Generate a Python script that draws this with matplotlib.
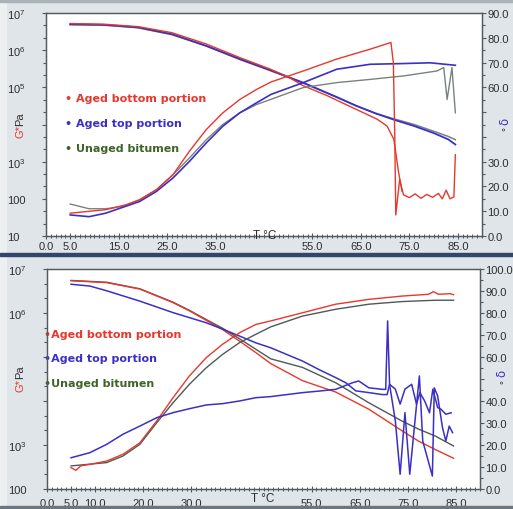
import matplotlib.pyplot as plt
from matplotlib.patches import Rectangle
from matplotlib.ticker import FixedLocator, MultipleLocator, NullFormatter

plt.rcParams['font.family'] = ['Liberation Sans Narrow', 'Liberation Sans', 'DejaVu Sans']

W, H = 513, 510
RED = '#e8372c'
BLUE = '#3b2fc4'
GREY = '#78827f'
DARK_GREY = '#4c5a58'
TEXT = '#2e2e2e'
GREEN_TXT = '#3f6328'

# ---------------- top panel data ----------------
top_g_temp = [5, 12, 19, 26, 33, 40, 46, 53, 60, 64, 68, 72, 76, 80, 83, 84.5]
top_g_top = [5.0e6, 4.8e6, 4.1e6, 2.7e6, 1.32e6, 5.8e5, 3.0e5, 1.35e5, 5.5e4,
             3.2e4, 2.0e4, 1.32e4, 9.1e3, 5.9e3, 4.0e3, 2.9e3]
top_g_unaged = [4.8e6, 4.7e6, 4.0e6, 2.6e6, 1.3e6, 5.6e5, 2.9e5, 1.32e5, 5.4e4,
                3.2e4, 2.0e4, 1.4e4, 1.0e4, 6.6e3, 4.8e3, 3.9e3]
top_g_bottom_temp = [5, 12, 19, 26, 33, 40, 46, 50, 53, 58, 63.5, 68.3, 70.4, 71.8, 72.8, 73.5]
top_g_bottom = [5.2e6, 5.0e6, 4.3e6, 2.95e6, 1.48e6, 6.3e5, 3.2e5, 1.9e5, 1.12e5,
                6.0e4, 2.75e4, 1.4e4, 9.1e3, 4.0e3, 500, 160]

top_d_bottom_temp = [5, 8, 12.3, 16.5, 19.3, 22.8, 26.2, 29.6, 33.1, 36.5, 40, 43.5, 46.5,
                     53.1, 60, 66.9, 71.2, 71.7, 72.0, 72.2, 73.0, 73.8, 75, 76.2, 77.4,
                     78.6, 79.8, 81, 81.8, 82.6, 83.4, 84.2, 84.5]
top_d_bottom = [9.2, 9.8, 10.6, 12.6, 14.6, 18.7, 24.7, 34.2, 43, 49.7, 55.1, 59.2, 62.2,
                66.6, 71.4, 75.4, 78.1, 70, 40, 8.5, 22.7, 16.6, 15.5, 17, 15.2,
                16.8, 15.6, 17.2, 15, 18.5, 15, 15.8, 32.8]
top_d_top_temp = [5, 8.9, 12.3, 19.3, 22.8, 26.2, 29.6, 33.1, 36.5, 40, 43.5, 46.5,
                  53.1, 60, 66.9, 73.8, 79.3, 84.5]
top_d_top = [8.5, 7.8, 9.2, 13.9, 18, 23.4, 30.1, 37.6, 44.3, 49.7, 53.8, 57.2,
             61.9, 67.3, 69.3, 69.6, 69.9, 68.9]
top_d_unaged_temp = [5, 8.9, 12.3, 15.8, 19.3, 22.8, 26.2, 29.6, 33.1, 36.5, 40, 43.5, 46.5,
                     53.1, 60, 66.9, 73.8, 80.7, 82.1, 82.8, 83.8, 84.5]
top_d_unaged = [12.9, 11, 11, 11.9, 14.6, 18.7, 24.7, 31.5, 38.9, 45, 49.7, 53.1, 55.2,
                59.9, 61.9, 63.2, 64.6, 66.6, 68, 55.1, 68, 49.7]

# ---------------- bottom panel data ----------------
bot_g_temp = [5, 12.4, 19.3, 26.1, 29.6, 33.1, 36.5, 40, 43.4, 46.5, 53.1, 60, 66.9,
              73.8, 77.2, 80.7, 84.5]
bot_g_bottom = [5.4e6, 4.9e6, 3.5e6, 1.74e6, 1.12e6, 6.8e5, 4.2e5, 2.3e5, 1.26e5, 7.1e4,
                2.9e4, 1.6e4, 6.5e3, 2.1e3, 1.23e3, 790, 500]
bot_g_unaged = [5.5e6, 5.0e6, 3.55e6, 1.78e6, 1.15e6, 7.1e5, 4.5e5, 2.6e5, 1.5e5, 9.1e4,
                5.8e4, 2.6e4, 9.1e3, 3.5e3, 2.3e3, 1.6e3, 950]
bot_g_top_temp = [5, 8.9, 12.4, 19.3, 26.2, 33.1, 36.5, 40, 43.4, 46.5, 53.1, 56.5, 60,
                  62.1, 64.2, 66.9, 69.7, 70.7, 71.2, 72.4, 73.4, 74.4, 75.8, 76.8, 77.5,
                  78.5, 79.5, 80.2, 81.2, 81.9, 82.9, 84]
bot_g_top = [4.5e6, 4.1e6, 3.2e6, 1.86e6, 1.02e6, 6.0e5, 4.3e5, 3.0e5, 2.1e5, 1.62e5,
             8.1e4, 5.2e4, 3.4e4, 2.6e4, 1.7e4, 1.55e4, 1.4e4, 1.4e4, 2.4e4, 1.86e4,
             8.5e3, 1.86e4, 2.4e4, 8.5e3, 1.55e4, 1.0e4, 5.4e3, 1.86e4, 7.1e3, 6.5e3,
             5.0e3, 5.4e3]

bot_d_bottom_temp = [5, 6, 7, 8.9, 12.4, 15.8, 19.3, 22.8, 26.2, 29.6, 33.1, 36.5, 40,
                     43.4, 46.5, 53.1, 60, 66.9, 73.8, 79.3, 80.3, 81.4, 83.8, 84.5]
bot_d_bottom = [9.7, 8.5, 10.5, 11.2, 12.7, 15.8, 21, 30.9, 41.5, 51.4, 59.7, 65.8, 71,
                74.8, 76.4, 80.1, 84, 86.2, 87.7, 88.5, 89.7, 88.5, 88.8, 88.3]
bot_d_unaged_temp = [5, 12.4, 15.8, 19.3, 22.8, 26.2, 29.6, 33.1, 36.5, 40, 43.4, 46.5,
                     53.1, 60, 66.9, 73.8, 80.7, 84.5]
bot_d_unaged = [10.5, 12, 15, 20.3, 30.1, 39.2, 47.6, 55.1, 61.2, 66.5, 70.3, 73.7,
                78.6, 81.7, 84, 85.2, 85.8, 85.8]
bot_d_top_temp = [5, 8.9, 12.4, 15.8, 19.3, 22.8, 26.2, 29.6, 33.1, 36.5, 40, 43.4, 46.5,
                  53.1, 56.5, 60, 63.5, 64.8, 66.9, 69.7, 70.4, 70.8, 71.2, 72.4, 73.4,
                  74.4, 75.4, 77.4, 78.1, 80.1, 80.5, 81.2, 82.2, 82.9, 83.6, 84.3]
bot_d_top = [14.2, 16.5, 20.3, 24.9, 28.6, 32.4, 34.7, 36.5, 38.2, 38.8, 40, 41.5, 42,
             43.8, 44.5, 45.3, 48.3, 49.1, 46, 45.3, 45.3, 76.4, 47.6, 31, 6.7,
             34.7, 6.7, 51.4, 21.8, 5.9, 46, 42.3, 27.9, 21.8, 28.6, 25.6]

# axis labels
legend_names = ['Aged bottom portion', 'Aged top portion', 'Unaged bitumen']
top_xtick_pos = [0, 5, 15, 25, 35, 55, 65, 75, 85]
top_xtick_lab = ['0.0', '5.0', '15.0', '25.0', '35.0', '55.0', '65.0', '75.0', '85.0']
bot_xtick_pos = [0, 5, 10, 20, 30, 55, 65, 75, 85]
bot_xtick_lab = ['0.0', '5.0', '10.0', '20.0', '30.0', '55.0', '65.0', '75.0', '85.0']
top_ytick_pos = [1e7, 1e6, 1e5, 1e4, 1e3, 100, 10]
top_ytick_lab = [r'$\mathregular{10^7}$', r'$\mathregular{10^6}$', r'$\mathregular{10^5}$',
                 '', r'$\mathregular{10^3}$', '100', '10']
bot_ytick_pos = [1e7, 1e6, 1e5, 1e4, 1e3, 100]
bot_ytick_lab = [r'$\mathregular{10^7}$', r'$\mathregular{10^6}$', '', '',
                 r'$\mathregular{10^3}$', '100']
top_rtick_pos = [0, 10, 20, 30, 40, 50, 60, 70, 80, 90]
top_rtick_lab = ['0.0', '10.0', '20.0', '30.0', '', '', '60.0', '70.0', '80.0', '90.0']
bot_rtick_pos = [0, 10, 20, 30, 40, 50, 60, 70, 80, 90, 100]
bot_rtick_lab = ['0.0', '10.0', '20.0', '30.0', '40.0', '', '60.0', '70.0', '80.0',
                 '90.0', '100.0']


def px_axes(fig, left, top, right, bottom):
    return fig.add_axes([left / W, 1 - bottom / H, (right - left) / W, (bottom - top) / H])


def style_panel(ax, axr, gmin, gmax, dmax, ypos, ylab, rpos, rlab, xpos, xlab, xpad):
    ax.set_yscale('log')
    ax.set_xlim(0, 90)
    ax.set_ylim(gmin, gmax)
    axr.set_ylim(0, dmax)
    ax.set_facecolor('white')
    for a in (ax, axr):
        for s in a.spines.values():
            s.set_color('#505a60')
            s.set_linewidth(0.9)
    ax.set_yticks(ypos, ylab)
    dec = [p for p in ypos]
    minor = []
    for p in dec[1:]:
        minor += [p * 10 ** (1 / 3), p * 10 ** (2 / 3)]
    ax.yaxis.set_minor_locator(FixedLocator(minor))
    ax.yaxis.set_minor_formatter(NullFormatter())
    ax.tick_params(axis='y', which='major', direction='out', length=3, width=0.8,
                   color='#505a60', labelsize=8, labelcolor=TEXT, pad=25)
    ax.tick_params(axis='y', which='minor', direction='out', length=2, width=0.8, color='#505a60')
    for t in ax.get_yticklabels():
        t.set_horizontalalignment('left')
    ax.set_xticks(xpos, xlab)
    ax.xaxis.set_minor_locator(MultipleLocator(1))
    ax.tick_params(axis='x', which='major', direction='inout', length=4, width=0.8,
                   color='#505a60', labelsize=8, labelcolor=TEXT, pad=xpad)
    ax.tick_params(axis='x', which='minor', direction='inout', length=2.5, width=0.7, color='#505a60')
    axr.set_yticks(rpos, rlab)
    axr.yaxis.set_minor_locator(MultipleLocator(5))
    axr.tick_params(axis='y', which='major', direction='out', length=3, width=0.8,
                    color='#505a60', labelsize=8, labelcolor=TEXT, pad=1)
    axr.tick_params(axis='y', which='minor', direction='out', length=2, width=0.8, color='#505a60')
    ax.set_zorder(axr.get_zorder() - 1)
    axr.patch.set_visible(False)


fig = plt.figure(figsize=(W / 100, H / 100), dpi=100)
fig.patch.set_facecolor('#dfe5e8')
fig.patches.append(Rectangle((0, 0), 6 / W, 1, transform=fig.transFigure, color='#edf0f1', zorder=0))
fig.patches.append(Rectangle((0, 1 - 3 / H), 1, 3 / H, transform=fig.transFigure, color='#a9b3b8', zorder=0))
fig.patches.append(Rectangle((0, 1 - 257 / H), 1, 3 / H, transform=fig.transFigure, color='#33456a', zorder=0))
fig.patches.append(Rectangle((0, 0), 1, 3 / H, transform=fig.transFigure, color='#6b7780', zorder=0))

# ---------------- top panel ----------------
ax1 = px_axes(fig, 46, 14, 482, 237)
ax1r = ax1.twinx()
ax1.plot(top_g_temp, top_g_unaged, color=GREY, lw=1.1)
ax1.plot(top_g_temp, top_g_top, color=BLUE, lw=1.3)
ax1.plot(top_g_bottom_temp, top_g_bottom, color=RED, lw=1.0)
ax1r.plot(top_d_unaged_temp, top_d_unaged, color=GREY, lw=1.0)
ax1r.plot(top_d_top_temp, top_d_top, color=BLUE, lw=1.2)
ax1r.plot(top_d_bottom_temp, top_d_bottom, color=RED, lw=1.0)
style_panel(ax1, ax1r, 10, 1e7, 90, top_ytick_pos, top_ytick_lab, top_rtick_pos, top_rtick_lab,
            top_xtick_pos, top_xtick_lab, 1.5)
for name, col, yy in zip(legend_names, [RED, BLUE, GREEN_TXT], [0.619, 0.507, 0.395]):
    ax1.text(0.044, yy, '\u2022 ' + name, color=col, fontsize=8, fontweight='bold',
             family='DejaVu Sans', transform=ax1.transAxes, va='center', ha='left')
fig.text(265 / W, 1 - 236 / H, 'T \u00b0C', fontsize=8.5, color=TEXT, ha='center', va='center')
fig.text(20 / W, 1 - 132 / H, 'G*', color=RED, fontsize=8, rotation=90, ha='center', va='center')
fig.text(20 / W, 1 - 119 / H, 'Pa', color=TEXT, fontsize=8, rotation=90, ha='center', va='center')
fig.text(505 / W, 1 - 121 / H, '\u03b4', color=BLUE, fontsize=8.5, rotation=90, ha='center',
         va='center', family='DejaVu Sans')
fig.text(506 / W, 1 - 129 / H, '\u00b0', color=TEXT, fontsize=7, rotation=90, ha='center', va='center')

# ---------------- bottom panel ----------------
ax2 = px_axes(fig, 47, 270, 480, 490)
ax2r = ax2.twinx()
ax2.plot(bot_g_temp, bot_g_unaged, color=DARK_GREY, lw=1.0)
ax2.plot(bot_g_temp, bot_g_bottom, color=RED, lw=1.0)
ax2.plot(bot_g_top_temp, bot_g_top, color=BLUE, lw=1.1)
ax2r.plot(bot_d_unaged_temp, bot_d_unaged, color=DARK_GREY, lw=1.0)
ax2r.plot(bot_d_bottom_temp, bot_d_bottom, color=RED, lw=1.0)
ax2r.plot(bot_d_top_temp, bot_d_top, color=BLUE, lw=1.1)
style_panel(ax2, ax2r, 100, 1e7, 100, bot_ytick_pos, bot_ytick_lab, bot_rtick_pos, bot_rtick_lab,
            bot_xtick_pos, bot_xtick_lab, 4.5)
for name, col, yy in zip(legend_names, [RED, BLUE, GREEN_TXT], [0.705, 0.595, 0.482]):
    ax2.text(-0.006, yy, '\u2022' + name, color=col, fontsize=8, fontweight='bold',
             family='DejaVu Sans', transform=ax2.transAxes, va='center', ha='left')
fig.text(263 / W, 1 - 499 / H, 'T \u00b0C', fontsize=8.5, color=TEXT, ha='center', va='center')
fig.text(20 / W, 1 - 386 / H, 'G*', color=RED, fontsize=8, rotation=90, ha='center', va='center')
fig.text(20 / W, 1 - 372 / H, 'Pa', color=TEXT, fontsize=8, rotation=90, ha='center', va='center')
fig.text(502 / W, 1 - 373 / H, '\u03b4', color=BLUE, fontsize=8.5, rotation=90, ha='center',
         va='center', family='DejaVu Sans')
fig.text(504 / W, 1 - 382 / H, '\u00b0', color=TEXT, fontsize=7, rotation=90, ha='center', va='center')

fig.savefig('out.png', dpi=100, facecolor=fig.get_facecolor())
